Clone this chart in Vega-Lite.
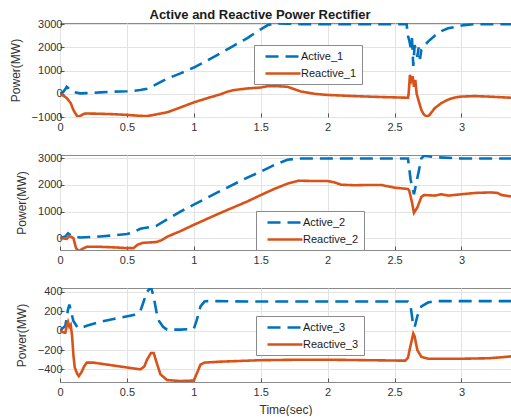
{
  "$schema": "https://vega.github.io/schema/vega-lite/v6.json",
  "padding": {"left": 8, "top": 8, "right": 0, "bottom": 0},
  "bounds": "flush",
  "spacing": 38,
  "title": {"text": "Active and Reactive Power Rectifier", "font": "Liberation Sans", "fontSize": 13, "fontWeight": "bold", "color": "#1a1a1a", "offset": -4, "anchor": "middle"},
  "config": {
    "view": {"stroke": "#8a8a8a", "strokeWidth": 1},
    "axis": {"grid": true, "gridColor": "#e3e3e3", "domain": false, "tickSize": -4, "tickColor": "#555", "labelFont": "Liberation Sans", "labelFontSize": 11, "labelColor": "#333", "titleFont": "Liberation Sans", "titleFontSize": 12, "titleFontWeight": "normal", "titleColor": "#333"},
    "axisX": {"labelPadding": 8},
    "axisY": {"titlePadding": 9},
    "legend": {"labelFont": "Liberation Sans", "labelFontSize": 11, "labelColor": "#1a1a1a", "title": null, "orient": "none", "fillColor": "white", "strokeColor": "#8a8a8a", "padding": 5, "symbolType": "M0,0H7", "symbolSize": 100, "symbolStrokeWidth": 3, "labelOffset": 29, "rowPadding": 5},
    "line": {"strokeWidth": 2.6}
  },
  "resolve": {"scale": {"color": "independent", "strokeDash": "independent"}, "legend": {"color": "independent", "strokeDash": "independent"}},
  "datasets": {
    "p1": [
      {"t":0,"v":0,"s":"Active_1"},{"t":0.02,"v":50,"s":"Active_1"},{"t":0.04,"v":200,"s":"Active_1"},{"t":0.05,"v":300,"s":"Active_1"},{"t":0.06,"v":250,"s":"Active_1"},{"t":0.08,"v":120,"s":"Active_1"},{"t":0.1,"v":80,"s":"Active_1"},{"t":0.15,"v":20,"s":"Active_1"},{"t":0.2,"v":30,"s":"Active_1"},{"t":0.3,"v":60,"s":"Active_1"},{"t":0.4,"v":90,"s":"Active_1"},{"t":0.5,"v":110,"s":"Active_1"},{"t":0.55,"v":130,"s":"Active_1"},{"t":0.6,"v":160,"s":"Active_1"},{"t":0.65,"v":220,"s":"Active_1"},{"t":0.7,"v":350,"s":"Active_1"},{"t":0.75,"v":500,"s":"Active_1"},{"t":0.8,"v":650,"s":"Active_1"},{"t":0.9,"v":880,"s":"Active_1"},{"t":1.0,"v":1130,"s":"Active_1"},{"t":1.1,"v":1430,"s":"Active_1"},{"t":1.2,"v":1750,"s":"Active_1"},{"t":1.3,"v":2080,"s":"Active_1"},{"t":1.4,"v":2400,"s":"Active_1"},{"t":1.5,"v":2780,"s":"Active_1"},{"t":1.55,"v":2950,"s":"Active_1"},{"t":1.6,"v":3030,"s":"Active_1"},{"t":1.7,"v":3020,"s":"Active_1"},{"t":1.8,"v":3000,"s":"Active_1"},{"t":2.0,"v":3000,"s":"Active_1"},{"t":2.2,"v":3000,"s":"Active_1"},{"t":2.4,"v":3000,"s":"Active_1"},{"t":2.59,"v":3000,"s":"Active_1"},{"t":2.6,"v":2500,"s":"Active_1"},{"t":2.61,"v":2300,"s":"Active_1"},{"t":2.62,"v":2000,"s":"Active_1"},{"t":2.63,"v":2400,"s":"Active_1"},{"t":2.64,"v":1200,"s":"Active_1"},{"t":2.65,"v":2100,"s":"Active_1"},{"t":2.66,"v":1900,"s":"Active_1"},{"t":2.67,"v":1600,"s":"Active_1"},{"t":2.68,"v":2000,"s":"Active_1"},{"t":2.69,"v":1500,"s":"Active_1"},{"t":2.7,"v":1900,"s":"Active_1"},{"t":2.75,"v":2250,"s":"Active_1"},{"t":2.8,"v":2500,"s":"Active_1"},{"t":2.85,"v":2700,"s":"Active_1"},{"t":2.9,"v":2820,"s":"Active_1"},{"t":3.0,"v":2940,"s":"Active_1"},{"t":3.1,"v":3000,"s":"Active_1"},{"t":3.37,"v":3000,"s":"Active_1"},
      {"t":0,"v":0,"s":"Reactive_1"},{"t":0.03,"v":-100,"s":"Reactive_1"},{"t":0.05,"v":-180,"s":"Reactive_1"},{"t":0.08,"v":-400,"s":"Reactive_1"},{"t":0.1,"v":-700,"s":"Reactive_1"},{"t":0.13,"v":-980,"s":"Reactive_1"},{"t":0.15,"v":-960,"s":"Reactive_1"},{"t":0.18,"v":-860,"s":"Reactive_1"},{"t":0.2,"v":-850,"s":"Reactive_1"},{"t":0.3,"v":-860,"s":"Reactive_1"},{"t":0.4,"v":-880,"s":"Reactive_1"},{"t":0.5,"v":-910,"s":"Reactive_1"},{"t":0.6,"v":-950,"s":"Reactive_1"},{"t":0.65,"v":-960,"s":"Reactive_1"},{"t":0.7,"v":-910,"s":"Reactive_1"},{"t":0.8,"v":-800,"s":"Reactive_1"},{"t":0.9,"v":-590,"s":"Reactive_1"},{"t":1.0,"v":-370,"s":"Reactive_1"},{"t":1.1,"v":-190,"s":"Reactive_1"},{"t":1.2,"v":-20,"s":"Reactive_1"},{"t":1.25,"v":90,"s":"Reactive_1"},{"t":1.3,"v":160,"s":"Reactive_1"},{"t":1.4,"v":230,"s":"Reactive_1"},{"t":1.5,"v":270,"s":"Reactive_1"},{"t":1.55,"v":330,"s":"Reactive_1"},{"t":1.6,"v":330,"s":"Reactive_1"},{"t":1.65,"v":320,"s":"Reactive_1"},{"t":1.7,"v":300,"s":"Reactive_1"},{"t":1.75,"v":200,"s":"Reactive_1"},{"t":1.8,"v":100,"s":"Reactive_1"},{"t":1.85,"v":50,"s":"Reactive_1"},{"t":1.9,"v":0,"s":"Reactive_1"},{"t":2.0,"v":-50,"s":"Reactive_1"},{"t":2.2,"v":-100,"s":"Reactive_1"},{"t":2.4,"v":-140,"s":"Reactive_1"},{"t":2.6,"v":-170,"s":"Reactive_1"},{"t":2.605,"v":0,"s":"Reactive_1"},{"t":2.615,"v":820,"s":"Reactive_1"},{"t":2.625,"v":580,"s":"Reactive_1"},{"t":2.635,"v":760,"s":"Reactive_1"},{"t":2.645,"v":300,"s":"Reactive_1"},{"t":2.655,"v":600,"s":"Reactive_1"},{"t":2.665,"v":0,"s":"Reactive_1"},{"t":2.68,"v":-300,"s":"Reactive_1"},{"t":2.7,"v":-700,"s":"Reactive_1"},{"t":2.72,"v":-900,"s":"Reactive_1"},{"t":2.74,"v":-980,"s":"Reactive_1"},{"t":2.76,"v":-920,"s":"Reactive_1"},{"t":2.8,"v":-620,"s":"Reactive_1"},{"t":2.85,"v":-400,"s":"Reactive_1"},{"t":2.9,"v":-250,"s":"Reactive_1"},{"t":2.95,"v":-160,"s":"Reactive_1"},{"t":3.0,"v":-120,"s":"Reactive_1"},{"t":3.1,"v":-100,"s":"Reactive_1"},{"t":3.2,"v":-120,"s":"Reactive_1"},{"t":3.3,"v":-150,"s":"Reactive_1"},{"t":3.37,"v":-170,"s":"Reactive_1"}
    ],
    "p2": [
      {"t":0,"v":0,"s":"Active_2"},{"t":0.04,"v":60,"s":"Active_2"},{"t":0.06,"v":180,"s":"Active_2"},{"t":0.08,"v":100,"s":"Active_2"},{"t":0.12,"v":50,"s":"Active_2"},{"t":0.15,"v":20,"s":"Active_2"},{"t":0.3,"v":60,"s":"Active_2"},{"t":0.4,"v":100,"s":"Active_2"},{"t":0.5,"v":150,"s":"Active_2"},{"t":0.55,"v":220,"s":"Active_2"},{"t":0.6,"v":350,"s":"Active_2"},{"t":0.72,"v":460,"s":"Active_2"},{"t":0.8,"v":700,"s":"Active_2"},{"t":0.9,"v":1000,"s":"Active_2"},{"t":1.0,"v":1260,"s":"Active_2"},{"t":1.2,"v":1780,"s":"Active_2"},{"t":1.4,"v":2280,"s":"Active_2"},{"t":1.5,"v":2500,"s":"Active_2"},{"t":1.6,"v":2750,"s":"Active_2"},{"t":1.7,"v":2950,"s":"Active_2"},{"t":1.78,"v":3000,"s":"Active_2"},{"t":2.0,"v":3000,"s":"Active_2"},{"t":2.3,"v":3000,"s":"Active_2"},{"t":2.6,"v":3000,"s":"Active_2"},{"t":2.62,"v":2200,"s":"Active_2"},{"t":2.645,"v":1650,"s":"Active_2"},{"t":2.68,"v":2500,"s":"Active_2"},{"t":2.7,"v":3000,"s":"Active_2"},{"t":2.72,"v":3100,"s":"Active_2"},{"t":2.8,"v":3050,"s":"Active_2"},{"t":3.0,"v":3000,"s":"Active_2"},{"t":3.37,"v":3000,"s":"Active_2"},
      {"t":0,"v":0,"s":"Reactive_2"},{"t":0.05,"v":-30,"s":"Reactive_2"},{"t":0.07,"v":80,"s":"Reactive_2"},{"t":0.1,"v":0,"s":"Reactive_2"},{"t":0.12,"v":-380,"s":"Reactive_2"},{"t":0.14,"v":-490,"s":"Reactive_2"},{"t":0.17,"v":-400,"s":"Reactive_2"},{"t":0.2,"v":-330,"s":"Reactive_2"},{"t":0.3,"v":-330,"s":"Reactive_2"},{"t":0.4,"v":-350,"s":"Reactive_2"},{"t":0.5,"v":-380,"s":"Reactive_2"},{"t":0.55,"v":-380,"s":"Reactive_2"},{"t":0.58,"v":-250,"s":"Reactive_2"},{"t":0.62,"v":-180,"s":"Reactive_2"},{"t":0.72,"v":-150,"s":"Reactive_2"},{"t":0.76,"v":-80,"s":"Reactive_2"},{"t":0.8,"v":50,"s":"Reactive_2"},{"t":0.9,"v":260,"s":"Reactive_2"},{"t":1.0,"v":500,"s":"Reactive_2"},{"t":1.2,"v":950,"s":"Reactive_2"},{"t":1.4,"v":1380,"s":"Reactive_2"},{"t":1.5,"v":1620,"s":"Reactive_2"},{"t":1.6,"v":1850,"s":"Reactive_2"},{"t":1.7,"v":2050,"s":"Reactive_2"},{"t":1.78,"v":2160,"s":"Reactive_2"},{"t":1.9,"v":2150,"s":"Reactive_2"},{"t":2.0,"v":2150,"s":"Reactive_2"},{"t":2.05,"v":2100,"s":"Reactive_2"},{"t":2.1,"v":2010,"s":"Reactive_2"},{"t":2.2,"v":1990,"s":"Reactive_2"},{"t":2.3,"v":2000,"s":"Reactive_2"},{"t":2.4,"v":2000,"s":"Reactive_2"},{"t":2.5,"v":1900,"s":"Reactive_2"},{"t":2.6,"v":1850,"s":"Reactive_2"},{"t":2.61,"v":1780,"s":"Reactive_2"},{"t":2.63,"v":1350,"s":"Reactive_2"},{"t":2.645,"v":950,"s":"Reactive_2"},{"t":2.67,"v":1150,"s":"Reactive_2"},{"t":2.7,"v":1550,"s":"Reactive_2"},{"t":2.72,"v":1620,"s":"Reactive_2"},{"t":2.8,"v":1600,"s":"Reactive_2"},{"t":2.85,"v":1650,"s":"Reactive_2"},{"t":2.9,"v":1600,"s":"Reactive_2"},{"t":3.0,"v":1650,"s":"Reactive_2"},{"t":3.1,"v":1700,"s":"Reactive_2"},{"t":3.22,"v":1720,"s":"Reactive_2"},{"t":3.27,"v":1700,"s":"Reactive_2"},{"t":3.3,"v":1620,"s":"Reactive_2"},{"t":3.37,"v":1570,"s":"Reactive_2"}
    ],
    "p3": [
      {"t":0,"v":0,"s":"Active_3"},{"t":0.04,"v":50,"s":"Active_3"},{"t":0.06,"v":220,"s":"Active_3"},{"t":0.07,"v":270,"s":"Active_3"},{"t":0.08,"v":210,"s":"Active_3"},{"t":0.1,"v":100,"s":"Active_3"},{"t":0.13,"v":35,"s":"Active_3"},{"t":0.15,"v":25,"s":"Active_3"},{"t":0.2,"v":50,"s":"Active_3"},{"t":0.3,"v":90,"s":"Active_3"},{"t":0.4,"v":120,"s":"Active_3"},{"t":0.55,"v":160,"s":"Active_3"},{"t":0.6,"v":200,"s":"Active_3"},{"t":0.62,"v":280,"s":"Active_3"},{"t":0.65,"v":400,"s":"Active_3"},{"t":0.68,"v":450,"s":"Active_3"},{"t":0.7,"v":350,"s":"Active_3"},{"t":0.72,"v":200,"s":"Active_3"},{"t":0.74,"v":100,"s":"Active_3"},{"t":0.77,"v":40,"s":"Active_3"},{"t":0.8,"v":10,"s":"Active_3"},{"t":0.9,"v":10,"s":"Active_3"},{"t":1.0,"v":20,"s":"Active_3"},{"t":1.02,"v":100,"s":"Active_3"},{"t":1.05,"v":250,"s":"Active_3"},{"t":1.08,"v":300,"s":"Active_3"},{"t":1.1,"v":305,"s":"Active_3"},{"t":1.5,"v":300,"s":"Active_3"},{"t":2.0,"v":300,"s":"Active_3"},{"t":2.6,"v":300,"s":"Active_3"},{"t":2.62,"v":250,"s":"Active_3"},{"t":2.635,"v":100,"s":"Active_3"},{"t":2.65,"v":35,"s":"Active_3"},{"t":2.67,"v":150,"s":"Active_3"},{"t":2.7,"v":250,"s":"Active_3"},{"t":2.75,"v":290,"s":"Active_3"},{"t":2.8,"v":305,"s":"Active_3"},{"t":3.37,"v":305,"s":"Active_3"},
      {"t":0,"v":0,"s":"Reactive_3"},{"t":0.03,"v":-20,"s":"Reactive_3"},{"t":0.04,"v":-20,"s":"Reactive_3"},{"t":0.05,"v":50,"s":"Reactive_3"},{"t":0.06,"v":90,"s":"Reactive_3"},{"t":0.07,"v":40,"s":"Reactive_3"},{"t":0.08,"v":60,"s":"Reactive_3"},{"t":0.09,"v":-50,"s":"Reactive_3"},{"t":0.1,"v":-250,"s":"Reactive_3"},{"t":0.11,"v":-380,"s":"Reactive_3"},{"t":0.13,"v":-450,"s":"Reactive_3"},{"t":0.14,"v":-470,"s":"Reactive_3"},{"t":0.16,"v":-430,"s":"Reactive_3"},{"t":0.18,"v":-370,"s":"Reactive_3"},{"t":0.2,"v":-330,"s":"Reactive_3"},{"t":0.25,"v":-330,"s":"Reactive_3"},{"t":0.3,"v":-340,"s":"Reactive_3"},{"t":0.4,"v":-360,"s":"Reactive_3"},{"t":0.5,"v":-380,"s":"Reactive_3"},{"t":0.6,"v":-400,"s":"Reactive_3"},{"t":0.63,"v":-370,"s":"Reactive_3"},{"t":0.65,"v":-300,"s":"Reactive_3"},{"t":0.68,"v":-230,"s":"Reactive_3"},{"t":0.7,"v":-230,"s":"Reactive_3"},{"t":0.72,"v":-320,"s":"Reactive_3"},{"t":0.75,"v":-450,"s":"Reactive_3"},{"t":0.8,"v":-510,"s":"Reactive_3"},{"t":0.9,"v":-520,"s":"Reactive_3"},{"t":1.0,"v":-515,"s":"Reactive_3"},{"t":1.02,"v":-450,"s":"Reactive_3"},{"t":1.05,"v":-350,"s":"Reactive_3"},{"t":1.08,"v":-330,"s":"Reactive_3"},{"t":1.2,"v":-320,"s":"Reactive_3"},{"t":1.5,"v":-305,"s":"Reactive_3"},{"t":1.8,"v":-300,"s":"Reactive_3"},{"t":2.0,"v":-300,"s":"Reactive_3"},{"t":2.3,"v":-305,"s":"Reactive_3"},{"t":2.58,"v":-310,"s":"Reactive_3"},{"t":2.6,"v":-280,"s":"Reactive_3"},{"t":2.62,"v":-150,"s":"Reactive_3"},{"t":2.64,"v":-30,"s":"Reactive_3"},{"t":2.65,"v":-60,"s":"Reactive_3"},{"t":2.67,"v":-200,"s":"Reactive_3"},{"t":2.7,"v":-270,"s":"Reactive_3"},{"t":2.75,"v":-290,"s":"Reactive_3"},{"t":3.0,"v":-290,"s":"Reactive_3"},{"t":3.2,"v":-285,"s":"Reactive_3"},{"t":3.3,"v":-275,"s":"Reactive_3"},{"t":3.37,"v":-265,"s":"Reactive_3"}
    ]
  },
  "vconcat": [
    {
      "data": {"name": "p1"},
      "width": 451, "height": 94,
      "mark": {"type": "line", "clip": true},
      "encoding": {
        "x": {"field": "t", "type": "quantitative", "scale": {"domain": [0, 3.37], "nice": false}, "axis": {"values": [0,0.5,1,1.5,2,2.5,3], "format": "~g", "title": null, "labelFlush": false}},
        "y": {"field": "v", "type": "quantitative", "scale": {"domain": [-1000, 3050], "nice": false}, "axis": {"values": [-1000,0,1000,2000,3000], "format": "d", "title": "Power(MW)"}},
        "color": {"field": "s", "type": "nominal", "scale": {"domain": ["Active_1","Reactive_1"], "range": ["#0072BD","#D95319"]}, "legend": {"legendX": 194, "legendY": 22}},
        "strokeDash": {"field": "s", "type": "nominal", "scale": {"domain": ["Active_1","Reactive_1"], "range": [[13,7],[1,0]]}, "legend": {"legendX": 194, "legendY": 22}}
      }
    },
    {
      "data": {"name": "p2"},
      "width": 451, "height": 95,
      "mark": {"type": "line", "clip": true},
      "encoding": {
        "x": {"field": "t", "type": "quantitative", "scale": {"domain": [0, 3.37], "nice": false}, "axis": {"values": [0,0.5,1,1.5,2,2.5,3], "format": "~g", "title": null, "labelFlush": false}},
        "y": {"field": "v", "type": "quantitative", "scale": {"domain": [-450, 3130], "nice": false}, "axis": {"values": [0,1000,2000,3000], "format": "d", "title": "Power(MW)"}},
        "color": {"field": "s", "type": "nominal", "scale": {"domain": ["Active_2","Reactive_2"], "range": ["#0072BD","#D95319"]}, "legend": {"legendX": 196, "legendY": 56}},
        "strokeDash": {"field": "s", "type": "nominal", "scale": {"domain": ["Active_2","Reactive_2"], "range": [[13,7],[1,0]]}, "legend": {"legendX": 196, "legendY": 56}}
      }
    },
    {
      "data": {"name": "p3"},
      "width": 451, "height": 94,
      "mark": {"type": "line", "clip": true},
      "encoding": {
        "x": {"field": "t", "type": "quantitative", "scale": {"domain": [0, 3.37], "nice": false}, "axis": {"values": [0,0.5,1,1.5,2,2.5,3], "format": "~g", "title": "Time(sec)", "labelFlush": false, "titlePadding": 7}},
        "y": {"field": "v", "type": "quantitative", "scale": {"domain": [-530, 440], "nice": false}, "axis": {"values": [-400,-200,0,200,400], "format": "d", "title": "Power(MW)"}},
        "color": {"field": "s", "type": "nominal", "scale": {"domain": ["Active_3","Reactive_3"], "range": ["#0072BD","#D95319"]}, "legend": {"legendX": 196, "legendY": 28}},
        "strokeDash": {"field": "s", "type": "nominal", "scale": {"domain": ["Active_3","Reactive_3"], "range": [[13,7],[1,0]]}, "legend": {"legendX": 196, "legendY": 28}}
      }
    }
  ]
}
